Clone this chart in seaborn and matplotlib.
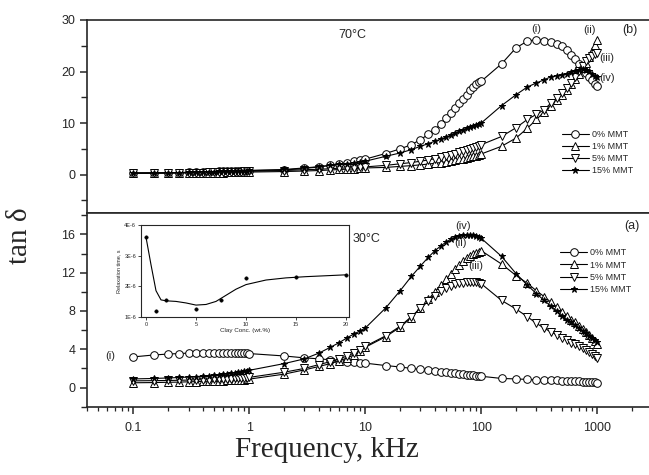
"""tan delta vs frequency for PEO/MMT films at 70 C (b) and 30 C (a),
with inset of relaxation time vs clay content.
"""

import seaborn as sns
import matplotlib.pyplot as plt
from matplotlib.ticker import FixedLocator, LogLocator, NullFormatter


FREQ_KHZ = [
    0.1, 0.15, 0.2, 0.25, 0.3, 0.35, 0.4, 0.45, 0.5, 0.55, 0.6, 0.65, 0.7,
    0.75, 0.8, 0.85, 0.9, 0.95, 1.0,
    2, 3, 4, 5, 6, 7, 8, 9, 10,
    15, 20, 25, 30, 35, 40, 45, 50, 55, 60, 65, 70, 75, 80, 85, 90, 95, 100,
    150, 200, 250, 300, 350, 400, 450, 500, 550, 600, 650, 700, 750, 800,
    850, 900, 950, 1000,
]

# 30 C, panel (a)
T30_0 = [
    3.2, 3.4, 3.5, 3.55, 3.6, 3.62, 3.65, 3.66, 3.66, 3.65, 3.65, 3.64, 3.63,
    3.62, 3.6, 3.6, 3.58, 3.57, 3.55,
    3.3, 3.1, 3.0, 2.9, 2.8, 2.72, 2.65, 2.6, 2.55,
    2.3, 2.15, 2.0, 1.9, 1.8, 1.72, 1.65, 1.58, 1.52, 1.47, 1.42, 1.38, 1.34,
    1.3, 1.27, 1.24, 1.21, 1.18,
    0.95, 0.9, 0.85, 0.8, 0.78, 0.76, 0.74, 0.72, 0.7, 0.68, 0.66, 0.64, 0.62,
    0.6, 0.58, 0.56, 0.54, 0.52,
]
T30_1 = [
    0.5, 0.52, 0.55, 0.57, 0.6, 0.62, 0.64, 0.66, 0.68, 0.7, 0.72, 0.74, 0.76,
    0.78, 0.8, 0.82, 0.84, 0.86, 0.88,
    1.4, 1.85, 2.2, 2.5, 2.8, 3.1, 3.4, 3.8, 4.2,
    5.3, 6.3, 7.3, 8.3, 9.2, 10.0, 10.7, 11.3, 11.9, 12.4, 12.8, 13.2, 13.5,
    13.75, 13.95, 14.1, 14.2, 14.3,
    12.9, 11.7, 10.9, 10.1, 9.5, 8.9, 8.4, 7.9, 7.5, 7.1, 6.8, 6.4, 6.1, 5.8,
    5.5, 5.2, 4.9, 4.6,
]
T30_5 = [
    0.7, 0.72, 0.74, 0.76, 0.78, 0.8, 0.82, 0.84, 0.86, 0.88, 0.9, 0.92, 0.94,
    0.96, 0.98, 1.0, 1.02, 1.04, 1.06,
    1.6, 2.0, 2.4, 2.7, 3.0, 3.3, 3.6, 3.95, 4.3,
    5.4, 6.4, 7.4, 8.3, 9.0, 9.6, 10.1, 10.4, 10.65, 10.8, 10.9, 10.95, 11.0,
    11.0, 11.0, 10.98, 10.95, 10.85,
    9.1, 8.2, 7.4, 6.7, 6.2, 5.8, 5.5, 5.2, 4.95, 4.7, 4.5, 4.3, 4.1, 3.9,
    3.7, 3.5, 3.3, 3.1,
]
T30_15 = [
    0.9, 0.95, 1.0, 1.05, 1.1, 1.15, 1.2, 1.25, 1.3, 1.35, 1.4, 1.45, 1.5,
    1.55, 1.6, 1.65, 1.7, 1.75, 1.8,
    2.5, 3.0, 3.6, 4.2, 4.7, 5.2, 5.6, 5.9, 6.2,
    8.3, 10.1, 11.6, 12.7, 13.6, 14.3, 14.8, 15.2, 15.5, 15.7, 15.8, 15.9,
    15.9, 15.9, 15.9, 15.85, 15.75, 15.6,
    13.7, 11.9, 10.7, 9.8, 9.1, 8.5, 8.0, 7.5, 7.1, 6.8, 6.5, 6.2, 5.9, 5.65,
    5.4, 5.15, 4.95, 4.75,
]

# 70 C, panel (b)
T70_0 = [
    0.3, 0.32, 0.35, 0.4, 0.45, 0.5, 0.55, 0.58, 0.6, 0.62, 0.64, 0.66, 0.68,
    0.7, 0.72, 0.74, 0.75, 0.77, 0.78,
    0.9, 1.2, 1.5, 1.8, 2.1, 2.35, 2.6, 2.8, 3.0,
    4.1, 5.0, 5.8, 6.8, 7.8, 8.7, 9.9, 11.0, 12.0, 12.9, 13.9, 14.7, 15.5,
    16.4, 17.0, 17.5, 17.9, 18.1,
    21.5, 24.6, 25.9, 26.2, 26.0, 25.8, 25.4, 24.9, 24.1, 23.3, 22.4, 21.5,
    20.6, 19.8, 19.0, 18.3, 17.6, 17.1,
]
T70_1 = [
    0.3, 0.3, 0.32, 0.33, 0.35, 0.36, 0.37, 0.38, 0.39, 0.4, 0.41, 0.42, 0.43,
    0.44, 0.45, 0.46, 0.47, 0.48, 0.5,
    0.6, 0.7, 0.8, 0.9, 1.0, 1.05, 1.1, 1.2, 1.3,
    1.4, 1.6, 1.75, 1.9, 2.05, 2.2, 2.35, 2.5, 2.65, 2.8, 2.95, 3.1, 3.25,
    3.4, 3.55, 3.7, 3.85, 4.0,
    5.5, 7.1, 9.0, 10.7, 12.2, 13.3, 14.5, 15.5, 16.5, 17.6, 18.6, 19.6, 20.6,
    21.6, 22.8, 24.0, 25.1, 26.2,
]
T70_5 = [
    0.3, 0.31, 0.33, 0.35, 0.37, 0.39, 0.41, 0.43, 0.45, 0.47, 0.49, 0.51,
    0.53, 0.55, 0.57, 0.59, 0.61, 0.63, 0.65,
    0.8, 0.95, 1.05, 1.15, 1.25, 1.3, 1.35, 1.4, 1.5,
    1.8, 2.1, 2.35, 2.6, 2.85, 3.1, 3.35, 3.6, 3.85, 4.1, 4.35, 4.6, 4.85,
    5.05, 5.25, 5.45, 5.65, 5.8,
    7.4, 9.1, 10.7, 11.7, 12.6, 13.9, 14.9, 15.9, 16.8, 17.8, 19.0, 20.1,
    21.0, 22.0, 22.6, 23.1, 23.4, 23.6,
]
T70_15 = [
    0.3, 0.33, 0.36, 0.4, 0.44, 0.48, 0.52, 0.55, 0.58, 0.61, 0.64, 0.67,
    0.7, 0.72, 0.74, 0.76, 0.78, 0.8, 0.82,
    1.0, 1.3, 1.55, 1.8, 2.0, 2.15, 2.3, 2.45, 2.6,
    3.55, 4.2, 4.85, 5.5, 6.0, 6.5, 6.9, 7.3, 7.7, 8.1, 8.4, 8.7, 9.0, 9.2,
    9.4, 9.6, 9.8, 10.0,
    13.4, 15.5, 17.0, 17.8, 18.4, 19.0, 19.2, 19.4, 19.6, 19.9, 20.1, 20.25,
    20.4, 20.3, 20.1, 19.6, 19.2, 19.0,
]

LABELS = ["0% MMT", "1% MMT", "5% MMT", "15% MMT"]
MARKERS = ["o", "^", "v", "*"]

# inset: relaxation time (x 1E-6 s) vs clay content
INSET_CLAY = [0, 1, 2, 5, 7.5, 10, 15, 20]
INSET_TAU = [3.6, 1.2, 1.55, 1.25, 1.55, 2.25, 2.31, 2.37]
INSET_FIT_CLAY = [0, 0.5, 1, 1.5, 2, 3, 4, 5, 6, 7, 8, 9, 10, 12, 14, 16,
                  18, 20]
INSET_FIT_TAU = [3.6, 2.7, 1.85, 1.55, 1.52, 1.5, 1.45, 1.38, 1.4, 1.5,
                 1.7, 1.9, 2.05, 2.2, 2.27, 2.31, 2.34, 2.37]

NARROW = ["Liberation Sans Narrow", "Liberation Sans", "DejaVu Sans"]
SERIF = ["Liberation Serif", "DejaVu Serif"]


def draw_panel(ax, series):
    for vals, lab, mk in zip(series, LABELS, MARKERS):
        star = mk == "*"
        sns.lineplot(x=FREQ_KHZ, y=vals, ax=ax, color="black", marker=mk,
                     markersize=4.5 if star else 5.5,
                     markerfacecolor="black" if star else "white",
                     markeredgecolor="black", markeredgewidth=0.7,
                     linewidth=0.8, label=lab, legend=False,
                     errorbar=None, sort=False)


def style_axis(ax, major, minor, ylim):
    ax.set_xscale("log")
    ax.set_xlim(0.04, 2800)
    ax.set_ylim(*ylim)
    ax.yaxis.set_major_locator(FixedLocator(major))
    ax.yaxis.set_minor_locator(FixedLocator(minor))
    ax.set_yticklabels([str(v) for v in major])
    ax.spines["right"].set_visible(False)
    for s in ("left", "top", "bottom"):
        ax.spines[s].set_linewidth(1.2)
    ax.tick_params(axis="y", which="major", direction="out", length=5,
                   width=1.1, labelsize=9)
    ax.tick_params(axis="y", which="minor", direction="out", length=4,
                   width=1.0)
    for t in ax.get_yticklabels():
        t.set_family(NARROW)
    ax.set_xlabel("")
    ax.set_ylabel("")


def main():
    sns.set_style("ticks")
    plt.rcParams["font.family"] = NARROW

    fig = plt.figure(figsize=(6.49, 4.75), dpi=100)
    ax_top = fig.add_axes([87 / 649, 1 - 213.3 / 475, 562 / 649, 193.3 / 475])
    ax_bot = fig.add_axes([87 / 649, 1 - 406.7 / 475, 562 / 649, 193.4 / 475])

    draw_panel(ax_top, [T70_0, T70_1, T70_5, T70_15])
    draw_panel(ax_bot, [T30_0, T30_1, T30_5, T30_15])

    style_axis(ax_top, [0, 10, 20, 30], [-5, 5, 15, 25], (-7.5, 30))
    style_axis(ax_bot, [0, 4, 8, 12, 16], [-2, 2, 6, 10, 14, 18], (-2, 18.2))

    ax_top.tick_params(axis="x", which="both", bottom=False, labelbottom=False)
    ax_bot.xaxis.set_major_locator(FixedLocator([0.1, 1, 10, 100, 1000]))
    ax_bot.xaxis.set_minor_locator(LogLocator(base=10, subs=range(2, 10)))
    ax_bot.xaxis.set_minor_formatter(NullFormatter())
    ax_bot.set_xticklabels(["0.1", "1", "10", "100", "1000"])
    ax_bot.tick_params(axis="x", which="major", direction="out", length=5,
                       width=1.1, labelsize=9, pad=6)
    ax_bot.tick_params(axis="x", which="minor", direction="out", length=3,
                       width=0.9)

    leg_kw = dict(loc="upper left", frameon=False, fontsize=6.5,
                  handlelength=3.0, handletextpad=0.3, labelspacing=0.35,
                  borderpad=0, borderaxespad=0, numpoints=1)
    ax_top.legend(bbox_to_anchor=(0.845, 0.431), **leg_kw)
    ax_bot.legend(bbox_to_anchor=(0.842, 0.818), **leg_kw)

    txt = dict(fontsize=8, ha="center", va="center", family=NARROW)
    ax_top.text(0.473, 0.923, "70°C", transform=ax_top.transAxes,
                **{**txt, "fontsize": 9})
    ax_top.text(0.966, 0.948, "(b)", transform=ax_top.transAxes,
                **{**txt, "fontsize": 9})
    for s, x, y in [("(i)", 0.799, 0.953), ("(ii)", 0.895, 0.948),
                    ("(iii)", 0.925, 0.803), ("(iv)", 0.925, 0.700)]:
        ax_top.text(x, y, s, transform=ax_top.transAxes, **txt)

    ax_bot.text(0.497, 0.866, "30°C", transform=ax_bot.transAxes,
                **{**txt, "fontsize": 9})
    ax_bot.text(0.970, 0.934, "(a)", transform=ax_bot.transAxes,
                **{**txt, "fontsize": 9})
    for s, x, y in [("(iv)", 0.669, 0.934), ("(ii)", 0.664, 0.846),
                    ("(iii)", 0.692, 0.725), ("(i)", 0.041, 0.261)]:
        ax_bot.text(x, y, s, transform=ax_bot.transAxes, **txt)

    # inset
    ins = fig.add_axes([141 / 649, 1 - 316.7 / 475, 208 / 649, 91.7 / 475])
    sns.lineplot(x=INSET_FIT_CLAY, y=INSET_FIT_TAU, ax=ins, color="black",
                 linewidth=0.8, errorbar=None, sort=False)
    sns.scatterplot(x=INSET_CLAY, y=INSET_TAU, ax=ins, color="black", s=6,
                    edgecolor="black", linewidth=0.4)
    ins.set_xlim(-0.5, 20.3)
    ins.set_ylim(1, 4)
    ins.set_xticks([0, 5, 10, 15, 20])
    ins.set_yticks([1, 2, 3, 4])
    ins.set_yticklabels(["1E-6", "2E-6", "3E-6", "4E-6"])
    ins.tick_params(labelsize=4, length=2, width=0.6, pad=1.5)
    ins.set_xlabel("Clay Conc. (wt.%)", fontsize=4.5, labelpad=1)
    ins.set_ylabel("Relaxation time, s", fontsize=4, labelpad=2)
    for s in ins.spines.values():
        s.set_linewidth(0.8)

    fig.text(0.031, 0.503, "tan δ", rotation=90, ha="center", va="center",
             fontsize=21, family=SERIF)
    fig.text(0.504, 0.052, "Frequency, kHz", ha="center", va="center",
             fontsize=21, family=SERIF)

    fig.savefig("out.png", dpi=100)
    plt.close(fig)


if __name__ == "__main__":
    main()
